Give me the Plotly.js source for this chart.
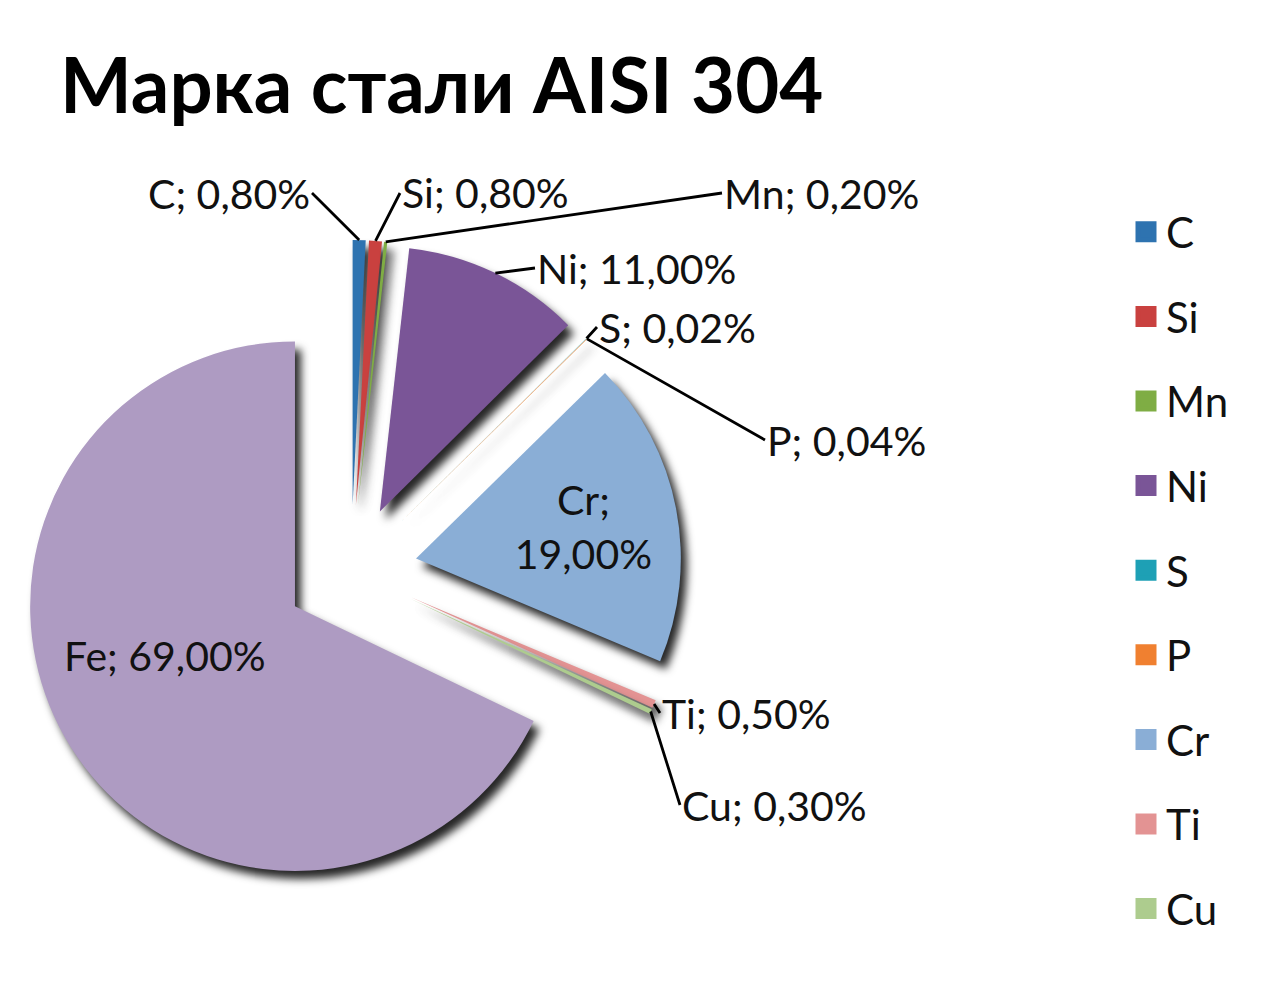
<!DOCTYPE html>
<html><head><meta charset="utf-8">
<script src="https://cdn.plot.ly/plotly-3.0.1.min.js"></script>
<style>
body{margin:0;background:#fff}
.slice path.surface{filter:drop-shadow(6px 8px 4px rgba(0,0,0,0.85));}
</style>
</head><body>
<div id="chart" style="width:1267px;height:991px"></div>
<script>
const elements = ['C','Si','Mn','Ni','S','P','Cr','Ti','Cu','Fe'];
const percents = [0.8, 0.8, 0.2, 11, 0.02, 0.04, 19, 0.5, 0.3, 69];
const legendElements = ['C','Si','Mn','Ni','S','P','Cr','Ti','Cu'];
const colors = ['#2E73B0','#C9413F','#7FAD44','#7A5597','#1EA0B5','#F08030','#8AAED6','#E39393','#ADCC8E','#AE9BC2'];

// label placement (layout only): anchor side, x, y in pixels
const labelPlacement = {
  C:  ['right', 312, 193],
  Si: ['left', 400, 193],
  Mn: ['left', 722, 193],
  Ni: ['left', 535, 268],
  S:  ['left', 597, 327],
  P:  ['left', 765, 440],
  Ti: ['left', 660, 713],
  Cu: ['left', 680, 805]
};
const feLabelPos = [165, 655];

const W = 1267, H = 991;
const PULL = 0.25;
const font = 'Lato, "Open Sans", sans-serif';
const labelSize = 41;
const fmt = v => v.toFixed(2).replace('.', ',') + '%';
const templates = elements.map(e => e === 'Cr' ? '%{label};<br>%{value:.2f}%' : '');
const positions = elements.map(e => e === 'Cr' ? 'inside' : 'none');

const pie = {
  type: 'pie',
  labels: elements,
  values: percents,
  sort: false,
  direction: 'clockwise',
  rotation: 0,
  pull: elements.map(() => PULL),
  marker: {colors: colors, line: {width: 0}},
  texttemplate: templates,
  textposition: positions,
  insidetextorientation: 'horizontal',
  textfont: {family: font, size: labelSize, color: '#111'},
  insidetextfont: {family: font, size: labelSize, color: '#111'},
  showlegend: false,
  hoverinfo: 'label+percent',
  automargin: false,
  domain: {x: [20/W, 682/W], y: [1 - 902/H, 1 - 240/H]}
};

const legendTraces = legendElements.map(e => ({
  type: 'scatter', mode: 'markers', x: [null], y: [null], name: e,
  legendgroup: e,
  marker: {symbol: 'square', size: 16, color: colors[elements.indexOf(e)],
           line: {width: 5, color: colors[elements.indexOf(e)]}},
  hoverinfo: 'skip'
}));

const layout = {
  width: W, height: H,
  margin: {l: 0, r: 0, t: 0, b: 0},
  paper_bgcolor: '#fff', plot_bgcolor: '#fff',
  separators: ', ',
  title: {text: '<b>Марка стали AISI 304</b>', font: {family: font, size: 76, color: '#000'},
          x: 60/W, xanchor: 'left', xref: 'paper', y: 1 - 86/H, yanchor: 'middle', yref: 'container'},
  xaxis: {visible: false}, yaxis: {visible: false},
  showlegend: true,
  legend: {x: 1126/W, y: 1 - 198/H, xanchor: 'left', yanchor: 'top',
           font: {family: font, size: 42, color: '#111'}, tracegroupgap: 27,
           bgcolor: 'rgba(0,0,0,0)'}
};

const gd = document.getElementById('chart');
Plotly.newPlot(gd, [pie].concat(legendTraces), layout, {displayModeBar: false, staticPlot: true}).then(() => {
  const cd = gd.calcdata[0];
  const cd0 = cd[0];
  const total = percents.reduce((a, b) => a + b, 0);
  const annotations = [];
  let cum = 0;
  elements.forEach((e, i) => {
    const a0 = cum / total * 2 * Math.PI;
    cum += percents[i];
    const a1 = cum / total * 2 * Math.PI;
    if (e === 'Cr') return;
    if (e === 'Fe') {
      annotations.push({
        xref: 'paper', yref: 'paper', x: feLabelPos[0] / W, y: 1 - feLabelPos[1] / H,
        xanchor: 'center', yanchor: 'middle', showarrow: false,
        text: e + '; ' + fmt(percents[i]),
        font: {family: font, size: labelSize, color: '#111'}
      });
      return;
    }
    let tipX, tipY;
    const pt = cd.find(p => p.label === e);
    if (pt && pt.pxmid && cd0.r) {
      const k = 1 + (pt.pull !== undefined ? pt.pull : PULL);
      tipX = cd0.cx + pt.pxmid[0] * k;
      tipY = cd0.cy + pt.pxmid[1] * k;
    } else {
      const boxW = W * (pie.domain.x[1] - pie.domain.x[0]);
      const boxH = H * (pie.domain.y[1] - pie.domain.y[0]);
      const r = Math.min(boxW, boxH) / (2 + 2 * PULL);
      const cx = W * (pie.domain.x[0] + pie.domain.x[1]) / 2;
      const cy = H * (1 - (pie.domain.y[0] + pie.domain.y[1]) / 2);
      const mid = (a0 + a1) / 2;
      tipX = cx + (1 + PULL) * r * Math.sin(mid);
      tipY = cy - (1 + PULL) * r * Math.cos(mid);
    }
    const [anchor, lx, ly] = labelPlacement[e];
    annotations.push({
      xref: 'paper', yref: 'paper', x: tipX / W, y: 1 - tipY / H,
      axref: 'pixel', ayref: 'pixel', ax: lx - tipX, ay: ly - tipY,
      xanchor: anchor, yanchor: 'middle',
      text: e + '; ' + fmt(percents[i]),
      showarrow: true, arrowhead: 0, arrowwidth: 2.8, arrowcolor: '#000',
      font: {family: font, size: labelSize, color: '#111'}
    });
  });
  return Plotly.relayout(gd, {annotations: annotations});
});
</script>
</body></html>
